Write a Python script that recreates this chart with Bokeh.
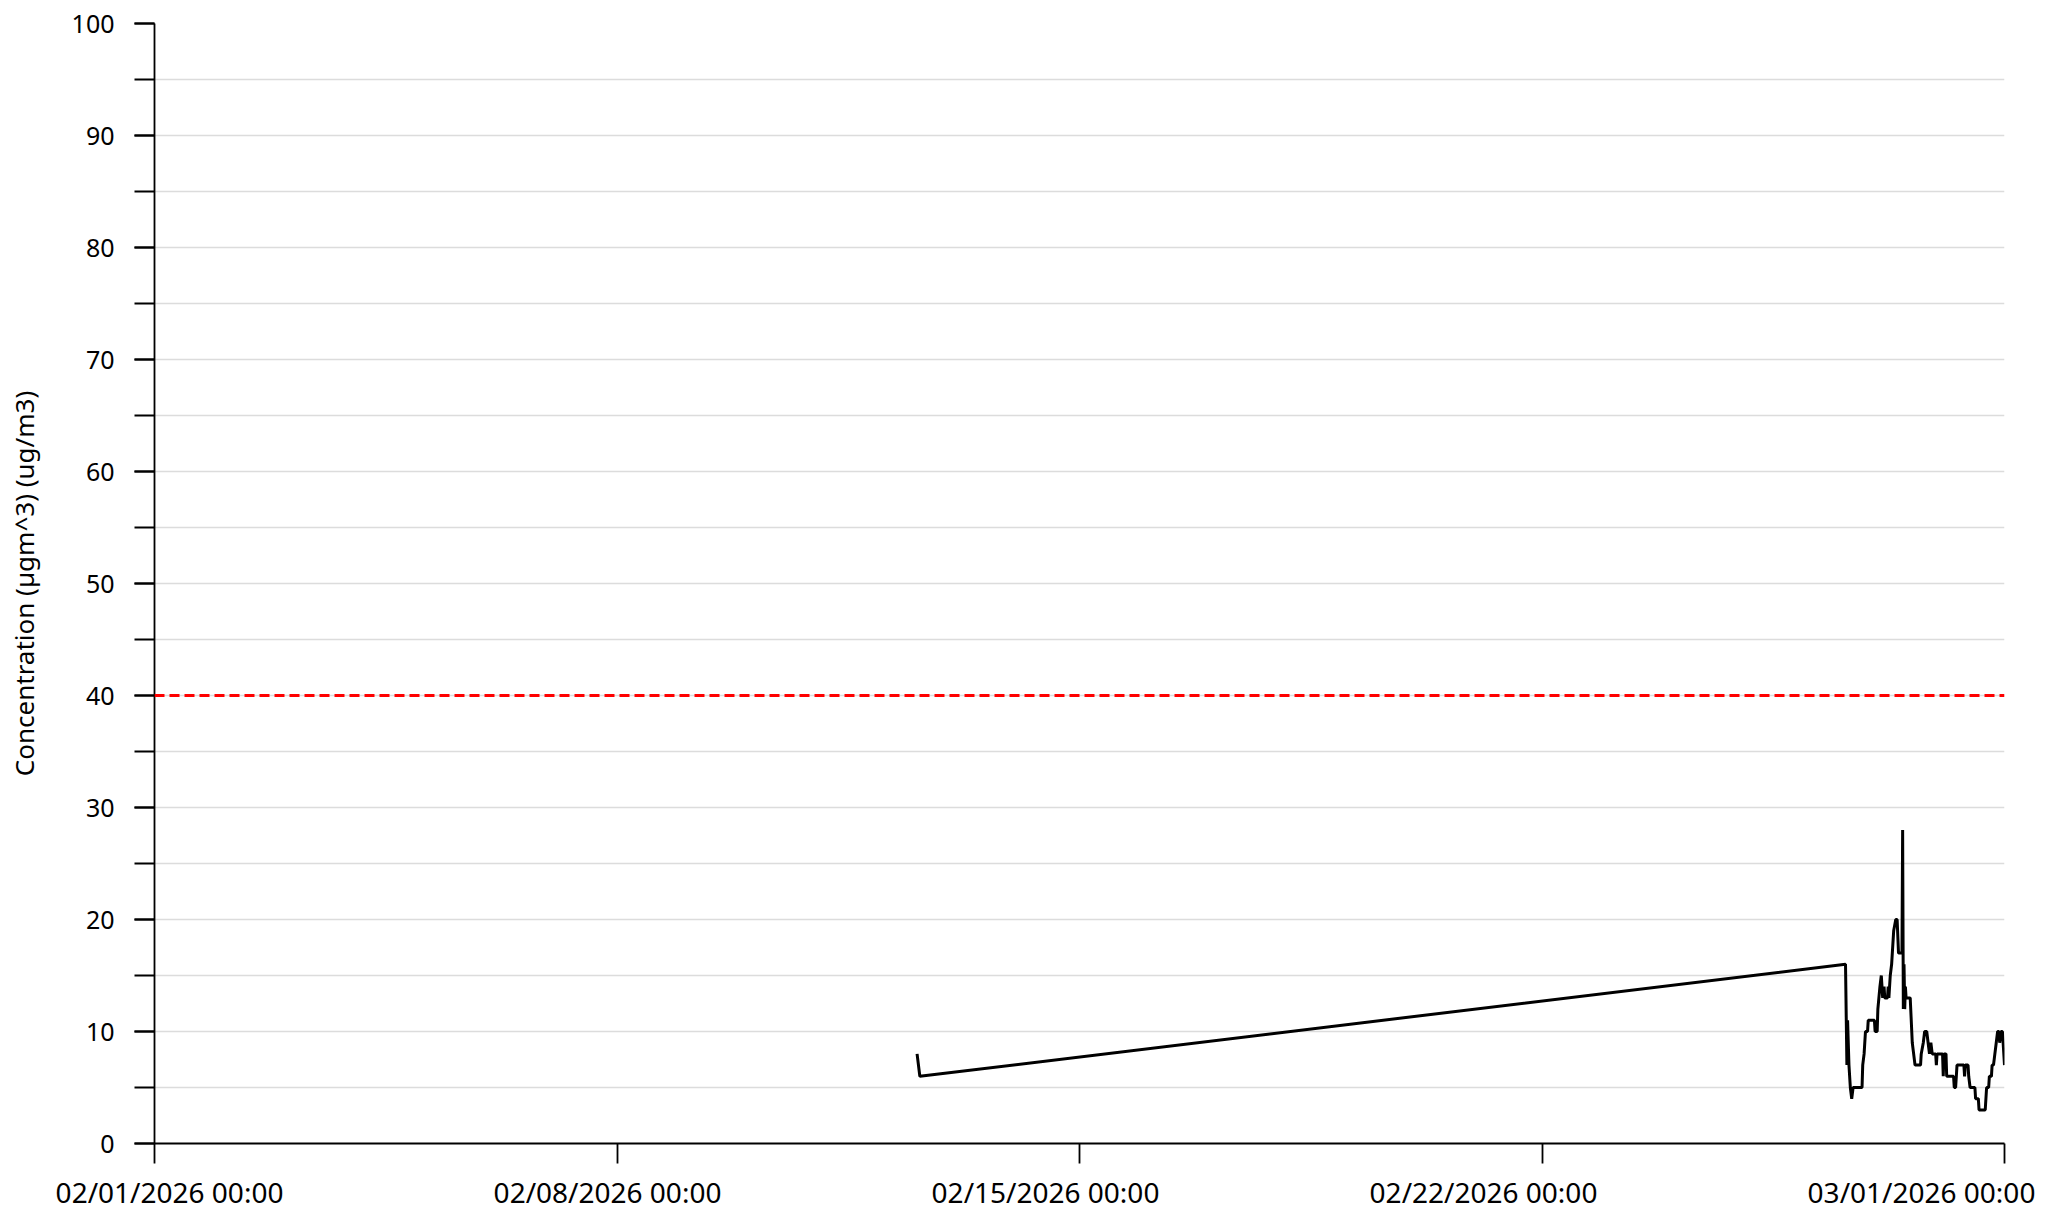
import pandas as pd
from bokeh.plotting import figure
from bokeh.models import (Range1d, LinearAxis, FixedTicker, SingleIntervalTicker,
                          Span, ColumnDataSource)
from bokeh.embed import file_html
from bokeh.resources import INLINE

# ---------------- data ----------------
early_times = ["2026-02-12 13:00", "2026-02-12 14:00"]
early_values = [8, 6]

dense_times = [
    "2026-02-26 14:15", "2026-02-26 14:45", "2026-02-26 15:00", "2026-02-26 15:30",
    "2026-02-26 16:00", "2026-02-26 16:30", "2026-02-26 17:00", "2026-02-26 20:15",
    "2026-02-26 20:30", "2026-02-26 21:00", "2026-02-26 21:30", "2026-02-26 22:15",
    "2026-02-26 22:30", "2026-02-27 00:45", "2026-02-27 01:00", "2026-02-27 01:45",
    "2026-02-27 02:00", "2026-02-27 02:45", "2026-02-27 03:15", "2026-02-27 03:45",
    "2026-02-27 04:15", "2026-02-27 04:30", "2026-02-27 05:30", "2026-02-27 05:45",
    "2026-02-27 06:00", "2026-02-27 06:30", "2026-02-27 07:00", "2026-02-27 07:45",
    "2026-02-27 08:30", "2026-02-27 09:00", "2026-02-27 09:30", "2026-02-27 10:45",
    "2026-02-27 11:00", "2026-02-27 11:15", "2026-02-27 11:30", "2026-02-27 11:45",
    "2026-02-27 12:00", "2026-02-27 12:15", "2026-02-27 13:45", "2026-02-27 14:30",
    "2026-02-27 15:00", "2026-02-27 15:30", "2026-02-27 17:30", "2026-02-27 17:45",
    "2026-02-27 18:30", "2026-02-27 19:00", "2026-02-27 19:45", "2026-02-27 20:15",
    "2026-02-27 20:45", "2026-02-27 21:15", "2026-02-27 21:45", "2026-02-27 23:00",
    "2026-02-27 23:15", "2026-02-27 23:30", "2026-02-28 01:30", "2026-02-28 01:45",
    "2026-02-28 02:00", "2026-02-28 02:45", "2026-02-28 03:00", "2026-02-28 05:30",
    "2026-02-28 05:45", "2026-02-28 06:15", "2026-02-28 06:45", "2026-02-28 09:15",
    "2026-02-28 09:30", "2026-02-28 09:45", "2026-02-28 10:45", "2026-02-28 11:00",
    "2026-02-28 11:30", "2026-02-28 13:15", "2026-02-28 13:30", "2026-02-28 14:30",
    "2026-02-28 14:45", "2026-02-28 17:00", "2026-02-28 17:30", "2026-02-28 18:15",
    "2026-02-28 18:30", "2026-02-28 19:15", "2026-02-28 19:30", "2026-02-28 20:00",
    "2026-02-28 20:30", "2026-02-28 21:00", "2026-02-28 21:30", "2026-02-28 22:00",
    "2026-02-28 22:15", "2026-02-28 22:45", "2026-02-28 23:15", "2026-02-28 23:30",
    "2026-03-01 00:00",
]
dense_values = [
    16, 7, 11, 7,
    5, 4, 5, 5,
    7, 8, 10, 10,
    11, 11, 10, 10,
    12, 14, 15, 13,
    14, 13, 13, 14,
    13, 15, 16, 19,
    20, 20, 17, 17,
    28, 12, 16, 12,
    14, 13, 13, 9,
    8, 7, 7, 8,
    9, 10, 10, 9,
    8, 9, 8, 8,
    7, 8, 8, 6,
    8, 8, 6, 6,
    5, 5, 7, 7,
    6, 7, 7, 6,
    5, 5, 4, 4,
    3, 3, 5, 5,
    6, 6, 7, 7,
    8, 9, 10, 10,
    9, 10, 10, 9,
    7,
]

tick_dates = ["2026-02-01", "2026-02-08", "2026-02-15", "2026-02-22", "2026-03-01"]
tick_labels = ["02/01/2026 00:00", "02/08/2026 00:00", "02/15/2026 00:00",
               "02/22/2026 00:00", "03/01/2026 00:00"]
y_label = "Concentration (µgm^3) (ug/m3)"
limit_value = 40
y_min, y_max = 0, 100

# ---------------- figure ----------------
FONT = "Noto Sans"
times = pd.to_datetime(early_times + dense_times)
values = early_values + dense_values
source = ColumnDataSource(data=dict(t=times, v=values))

tick_ts = [pd.Timestamp(d) for d in tick_dates]
tick_ms = [t.value / 1e6 for t in tick_ts]

p = figure(frame_width=1850, frame_height=1120, x_axis_type="datetime",
           x_range=Range1d(tick_ts[0], tick_ts[-1]),
           y_range=Range1d(y_min, y_max),
           output_backend="svg", toolbar_location=None,
           min_border_left=154, min_border_right=41,
           min_border_top=23, min_border_bottom=0)
p.outline_line_color = None
p.background_fill_color = "white"
p.border_fill_color = "white"

# grid
p.xgrid.visible = False
p.ygrid.ticker = FixedTicker(ticks=list(range(5, 100, 5)))
p.ygrid.grid_line_color = "#dcdcdc"
p.ygrid.grid_line_width = 1.5

# x axis (ticks only, its own labels are not drawn)
xa = p.xaxis[0]
xa.ticker = FixedTicker(ticks=tick_ms)
xa.major_tick_out = 20
xa.major_tick_in = 0
xa.minor_tick_line_color = None
xa.major_label_text_font_size = "0px"
xa.major_label_text_color = None
xa.major_label_standoff = 0
xa.axis_line_color = "black"
xa.axis_line_width = 1.8
xa.major_tick_line_width = 1.8

# x labels axis
p.extra_x_ranges = {"lab": Range1d(-0.0343, 4.1895)}
lab = LinearAxis(x_range_name="lab", ticker=FixedTicker(ticks=list(range(len(tick_labels)))),
                 major_label_overrides={i: s for i, s in enumerate(tick_labels)})
lab.major_tick_out = 0
lab.major_tick_in = 0
lab.minor_tick_line_color = None
lab.major_tick_line_color = None
lab.axis_line_color = None
lab.major_label_standoff = 9
lab.major_label_text_font = FONT
lab.major_label_text_font_size = "28px"
lab.major_label_text_color = "black"
p.add_layout(lab, "below")

# y axis
ya = p.yaxis[0]
ya.ticker = SingleIntervalTicker(interval=10, num_minor_ticks=2)
ya.major_tick_out = 20
ya.major_tick_in = 0
ya.minor_tick_out = 20
ya.minor_tick_in = 0
ya.axis_line_color = "black"
ya.axis_line_width = 1.8
ya.major_tick_line_width = 1.8
ya.minor_tick_line_width = 1.8
ya.minor_tick_line_color = "black"
ya.major_label_text_font = FONT
ya.major_label_text_font_size = "25px"
ya.major_label_text_color = "black"
ya.major_label_standoff = 20
ya.axis_label = y_label
ya.axis_label_text_font = FONT
ya.axis_label_text_font_size = "26px"
ya.axis_label_text_font_style = "normal"
ya.axis_label_text_color = "black"
ya.axis_label_standoff = 27

# limit line
p.add_layout(Span(location=limit_value, dimension="width", line_color="red",
                  line_dash="10 5", line_width=3))

# data
p.line(x="t", y="v", source=source, line_color="black", line_width=3)

open("out.html", "w").write(file_html(p, INLINE))
